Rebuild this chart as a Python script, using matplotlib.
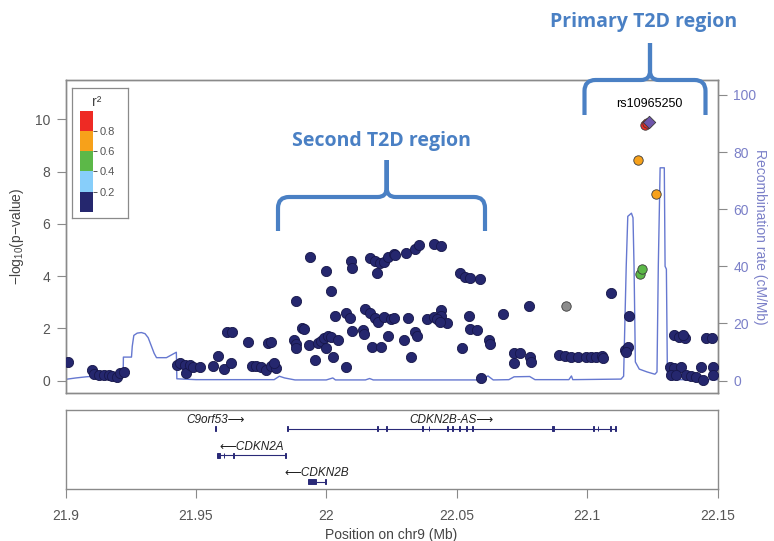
import matplotlib
matplotlib.use("Agg")
import matplotlib.pyplot as plt
import numpy as np
from matplotlib.patches import Rectangle, PathPatch
from matplotlib.path import Path

plt.rcParams['font.family'] = ['Liberation Sans', 'DejaVu Sans']
plt.rcParams['mathtext.fontset'] = 'custom'
plt.rcParams['mathtext.rm'] = 'Liberation Sans'
plt.rcParams['mathtext.it'] = 'Liberation Sans:italic'

# ---------------- association results (chr9, Mb) ----------------
snp_pos = [
    21.9010, 21.9102, 21.9108, 21.9127, 21.9146, 21.9166, 21.9178, 21.9197, 21.9210, 21.9223,
    21.9427, 21.9440, 21.9459, 21.9462, 21.9478, 21.9487, 21.9516, 21.9564, 21.9583, 21.9606,
    21.9620, 21.9640, 21.9633, 21.9701, 21.9715, 21.9731, 21.9750, 21.9769, 21.9789, 21.9808,
    21.9799, 21.9776, 21.9789, 21.9884, 21.9878, 21.9884, 21.9884, 21.9906, 21.9914, 21.9936,
    21.9932, 21.9957, 21.9967, 21.9980, 21.9993, 22.0006, 22.0018, 21.9999, 21.9997, 22.0018,
    22.0025, 22.0034, 22.0044, 22.0076, 22.0089, 22.0076, 22.0093, 22.0099, 22.0098, 22.0140,
    22.0146, 22.0150, 22.0166, 22.0185, 22.0197, 22.0166, 22.0185, 22.0204, 22.0223, 22.0238,
    22.0261, 22.0195, 22.0174, 22.0210, 22.0220, 22.0248, 22.0236, 22.0265, 22.0307, 22.0342,
    22.0354, 22.0412, 22.0441, 22.0514, 22.0533, 22.0552, 22.0588, 22.0259, 22.0313, 22.0297,
    22.0323, 22.0342, 22.0346, 22.0386, 22.0412, 22.0438, 22.0441, 22.0463, 22.0425, 22.0437,
    22.0546, 22.0550, 22.0578, 22.0520, 22.0623, 22.0626, 22.0593, 22.0677, 22.0776, 22.0718,
    22.0741, 22.0721, 22.0782, 22.0785, 22.0893, 22.0914, 22.0939, 22.0965, 22.0997, 22.1016,
    22.1035, 22.1058, 22.1060, 22.1093, 22.1160, 22.1144, 22.1156, 22.1150, 22.1335, 22.1354,
    22.1374, 22.1367, 22.1457, 22.1480, 22.1316, 22.1335, 22.1361, 22.1323, 22.1342, 22.1380,
    22.1399, 22.1418, 22.1438, 22.1444, 22.1482, 22.1482,
    22.0918,
    22.1201, 22.1210,
    22.1197, 22.1266,
    22.1222, 22.1230,
]
snp_logp = [
    0.70, 0.41, 0.26, 0.23, 0.23, 0.23, 0.18, 0.15, 0.31, 0.34,
    0.60, 0.66, 0.60, 0.28, 0.60, 0.54, 0.51, 0.56, 0.96, 0.44,
    1.87, 1.87, 0.69, 1.47, 0.56, 0.56, 0.54, 0.41, 0.56, 0.47,
    0.66, 1.46, 1.49, 3.05, 1.56, 1.40, 1.24, 2.00, 1.98, 4.72,
    1.37, 0.79, 1.43, 1.53, 1.62, 1.71, 1.68, 1.24, 4.18, 3.43,
    0.92, 2.49, 1.56, 2.60, 2.39, 0.51, 4.59, 4.30, 1.91, 1.94,
    1.79, 2.73, 2.58, 2.39, 2.26, 4.68, 4.58, 4.49, 4.55, 4.74,
    4.85, 4.11, 1.30, 1.30, 2.45, 2.36, 1.71, 4.81, 4.90, 5.03,
    5.19, 5.23, 5.15, 4.11, 3.98, 3.92, 3.88, 2.39, 2.39, 1.56,
    0.92, 1.87, 1.71, 2.35, 2.43, 2.71, 2.48, 2.20, 2.35, 2.26,
    2.48, 1.97, 1.94, 1.24, 1.56, 1.40, 0.11, 2.55, 2.86, 1.07,
    1.07, 0.69, 0.92, 0.73, 1.00, 0.94, 0.89, 0.91, 0.89, 0.89,
    0.91, 0.94, 0.86, 3.34, 2.48, 1.17, 1.30, 1.11, 1.75, 1.66,
    1.62, 1.75, 1.62, 1.62, 0.54, 0.47, 0.54, 0.22, 0.22, 0.22,
    0.18, 0.15, 0.54, 0.03, 0.54, 0.22,
    2.86,
    4.08, 4.26,
    8.44, 7.15,
    9.78, 9.84,
]
snp_r2 = [0.1] * 146 + [np.nan] + [0.45, 0.45] + [0.7, 0.7] + [0.92, 0.92]

index_snp = "rs10965250"
index_pos = 22.1236
index_logp = 9.90

# ---------------- recombination rate (cM/Mb) ----------------
rec_pos = [21.9000, 21.9040, 21.9080, 21.9119, 21.9221, 21.9222, 21.9253, 21.9256, 21.9262,
           21.9275, 21.9291, 21.9305, 21.9317, 21.9340, 21.9349, 21.9387, 21.9425, 21.9427,
           21.9500, 21.9800, 21.9820, 21.9840, 21.9880, 22.0000, 22.0025, 22.0035, 22.0150,
           22.0166, 22.0180, 22.0590, 22.0620, 22.0640, 22.0700, 22.0720, 22.0780, 22.0800,
           22.0930, 22.0940, 22.0945, 22.1130, 22.1140, 22.1150, 22.1156, 22.1170, 22.1176,
           22.1180, 22.1185, 22.1200, 22.1230, 22.1260, 22.1268, 22.1273, 22.1280, 22.1296,
           22.1299, 22.1304, 22.1308, 22.1320, 22.1500]
rec_rate = [0.4, 0.9, 1.3, 1.6, 1.7, 8.2, 8.2, 12.0, 15.8,
            16.6, 16.8, 16.4, 15.0, 9.5, 8.0, 8.0, 9.9, 0.6,
            0.3, 0.3, 1.5, 0.9, 0.2, 0.2, 0.9, 0.2, 0.2,
            0.7, 0.2, 0.2, 1.6, 0.2, 0.3, 1.3, 1.4, 0.3,
            0.3, 1.6, 0.3, 0.5, 1.5, 40.0, 57.5, 58.6, 57.0,
            40.0, 6.5, 4.0, 3.0, 2.2, 3.0, 40.0, 74.5, 74.5,
            40.0, 39.0, 1.0, 0.3, 0.3]

# ---------------- genes ----------------
gene_names = ["C9orf53", "CDKN2B-AS", "CDKN2A", "CDKN2B"]
gene_start = [21.9573, 21.9849, 21.9580, 21.9929]
gene_end = [21.9578, 22.1111, 21.9846, 21.9998]
gene_strand = ["+", "+", "-", "-"]
gene_row = [0, 0, 1, 2]
gene_exons = [
    [(21.9573, 21.9578)],
    [(21.9849, 21.9853), (22.0195, 22.0197), (22.0229, 22.0232), (22.0366, 22.0369),
     (22.0392, 22.0394), (22.0461, 22.0465), (22.0482, 22.0487), (22.0510, 22.0512),
     (22.0536, 22.0538), (22.0559, 22.0564), (22.0867, 22.0872), (22.1024, 22.1026),
     (22.1040, 22.1042), (22.1088, 22.1091), (22.1106, 22.1111)],
    [(21.9580, 21.9592), (21.9607, 21.9609), (21.9644, 21.9647), (21.9843, 21.9846)],
    [(21.9929, 21.9960), (21.9995, 21.9998)],
]

# r^2 colour scale
r2_edges = [0.0, 0.2, 0.4, 0.6, 0.8, 1.0]
r2_colors = ["#25276e", "#87cefa", "#5cb848", "#f7a11a", "#ee2a24"]
r2_missing = "#8c8c8c"
index_color = "#6e55aa"
rec_color = "#6678d0"
rec_text = "#7b80c8"
gene_color = "#2a2a78"
note_color = "#4a80c4"
frame_color = "#8a8a8a"
tick_text = "#555555"

W, H = 774, 541
fig = plt.figure(figsize=(W / 100, H / 100), dpi=100)


def frect(l, t, r, b):
    return [l / W, 1 - b / H, (r - l) / W, (b - t) / H]


def style_spines(a):
    for s in a.spines.values():
        s.set_color(frame_color)
        s.set_linewidth(1.0)


# ---------------- association panel ----------------
ax = fig.add_axes(frect(65.5, 80, 717.5, 393.3))
ax2 = ax.twinx()
ax.set_zorder(ax2.get_zorder() + 1)
ax.patch.set_visible(False)

ax2.plot(rec_pos, rec_rate, color=rec_color, lw=1.0)
ax2.set_ylim(-4.48, 105.25)
ax2.set_yticks([0, 20, 40, 60, 80, 100])
ax2.tick_params(axis='y', length=6.5, width=0.8, color=frame_color,
                labelsize=10, labelcolor=rec_text, pad=5)
ax2.set_ylabel("Recombination rate (cM/Mb)", rotation=270, fontsize=10,
               color=rec_text, va='center', ha='center')
ax2.yaxis.set_label_coords(1.065, 0.5)

pos = np.array(snp_pos)
lp = np.array(snp_logp)
r2 = np.array(snp_r2, dtype=float)
cols = []
for v in r2:
    if np.isnan(v):
        cols.append(r2_missing)
    else:
        k = min(np.searchsorted(r2_edges, v, side='right') - 1, len(r2_colors) - 1)
        cols.append(r2_colors[k])
order = np.argsort(np.nan_to_num(r2, nan=0.15), kind='stable')
for i in order:
    dark = cols[i] == r2_colors[0]
    ax.scatter(pos[i], lp[i], s=54 if dark else 46, color=cols[i],
               edgecolors="#17174a" if dark else "#3a3a3a",
               linewidths=0.6, zorder=3)
ax.scatter([index_pos], [index_logp], s=40, marker='D', color=index_color,
           edgecolors="#3a3a3a", linewidths=0.6, zorder=4)
ax.text(index_pos + 0.0004, index_logp + 0.45, index_snp, ha='center', va='bottom',
        fontsize=9, color='black')

ax.set_xlim(21.9, 22.15)
ax.set_ylim(-0.48, 11.5)
ax.set_xticks([])
ax.set_yticks([0, 2, 4, 6, 8, 10])
ax.tick_params(axis='y', length=6.5, width=0.8, color=frame_color,
               labelsize=10, labelcolor=tick_text, pad=4.5)
ax.set_ylabel("\u2212log$_{10}$(p\u2212value)", fontsize=10, color="#444444",
              va='center', ha='center')
ax.yaxis.set_label_coords(-0.0748, 0.5)
style_spines(ax)
style_spines(ax2)

# ---------------- gene panel ----------------
gx = fig.add_axes(frect(65.5, 410, 717.5, 489.3))
gx.set_xlim(21.9, 22.15)
gx.set_ylim(2.29, -0.72)
gx.set_yticks([])
xt = [21.9, 21.95, 22.0, 22.05, 22.1, 22.15]
gx.set_xticks(xt)
gx.set_xticklabels(["21.9", "21.95", "22", "22.05", "22.1", "22.15"])
gx.tick_params(axis='x', length=6.5, width=0.8, color=frame_color,
               labelsize=10, labelcolor=tick_text, pad=8)
gx.set_xlabel("Position on chr9 (Mb)", fontsize=10, color="#444444", va='center')
gx.xaxis.set_label_coords(0.5, -0.576)
style_spines(gx)

exon_h = 0.19
for name, s, e, strand, row, exons in zip(gene_names, gene_start, gene_end,
                                           gene_strand, gene_row, gene_exons):
    gx.plot([s, e], [row, row], color=gene_color, lw=0.8, solid_capstyle='butt')
    for (es, ee) in exons:
        gx.add_patch(Rectangle((es, row - exon_h / 2), ee - es, exon_h,
                               facecolor=gene_color, edgecolor=gene_color, lw=0.7))
    label = name + "\u27f6" if strand == "+" else "\u27f5" + name
    gx.text((s + e) / 2, row - 0.33, label, ha='center', va='center',
            fontsize=8.5, style='italic', color='#222222',
            family=['Liberation Sans', 'DejaVu Sans'])

# ---------------- r^2 key ----------------
box = fig.add_axes(frect(72.3, 88.3, 127.7, 218.3))
box.set_xticks([])
box.set_yticks([])
for s in box.spines.values():
    s.set_color(frame_color)
    s.set_linewidth(0.9)

cb = fig.add_axes(frect(80, 110.7, 93.3, 211.7))
for i, c in enumerate(r2_colors):
    cb.bar(0.5, r2_edges[i + 1] - r2_edges[i], bottom=r2_edges[i], width=1.0,
           color=c, edgecolor='none')
cb.set_xlim(0, 1)
cb.set_ylim(0, 1)
cb.set_xticks([])
cb.set_yticks(r2_edges[1:-1])
cb.set_yticklabels([f"{v:.1f}" for v in r2_edges[1:-1]])
cb.yaxis.tick_right()
cb.tick_params(axis='y', length=3, width=0.7, color='#555555', labelsize=8,
               labelcolor=tick_text, pad=1.5)
for s in cb.spines.values():
    s.set_visible(False)

# ---------------- overlay: key title, braces and region notes ----------------
ov = fig.add_axes([0, 0, 1, 1])
ov.set_xlim(0, W)
ov.set_ylim(H, 0)
ov.axis('off')
ov.set_zorder(20)
ov.patch.set_visible(False)

ov.text(96.7, 101.5, "r\u00b2", ha='center', va='center', fontsize=10, color='#444444')


def brace(x0, x1, xc, y_end, y_bar, y_tip, r=11, rt=9):
    verts = [(x0, y_end), (x0, y_bar + r), (x0, y_bar), (x0 + r, y_bar),
             (xc - rt, y_bar), (xc, y_bar), (xc, y_bar - rt), (xc, y_tip),
             (x1, y_end), (x1, y_bar + r), (x1, y_bar), (x1 - r, y_bar),
             (xc + rt, y_bar), (xc, y_bar), (xc, y_bar - rt), (xc, y_tip)]
    half = [Path.MOVETO, Path.LINETO, Path.CURVE3, Path.CURVE3,
            Path.LINETO, Path.CURVE3, Path.CURVE3, Path.LINETO]
    p = Path(verts, half + half)
    ov.add_patch(PathPatch(p, facecolor='none', edgecolor=note_color, lw=3.0,
                           capstyle='butt', joinstyle='round'))


brace(278, 485, 386.7, 231, 197, 160)
brace(584.5, 705.5, 650, 115, 80, 43)

ov.text(381, 141, "Second T2D region", ha='center', va='center', fontsize=14,
        fontweight='bold', family='Open Sans', color=note_color)
ov.text(644, 22, "Primary T2D region", ha='center', va='center', fontsize=14,
        fontweight='bold', family='Open Sans', color=note_color)

fig.savefig("out.png", dpi=100)
